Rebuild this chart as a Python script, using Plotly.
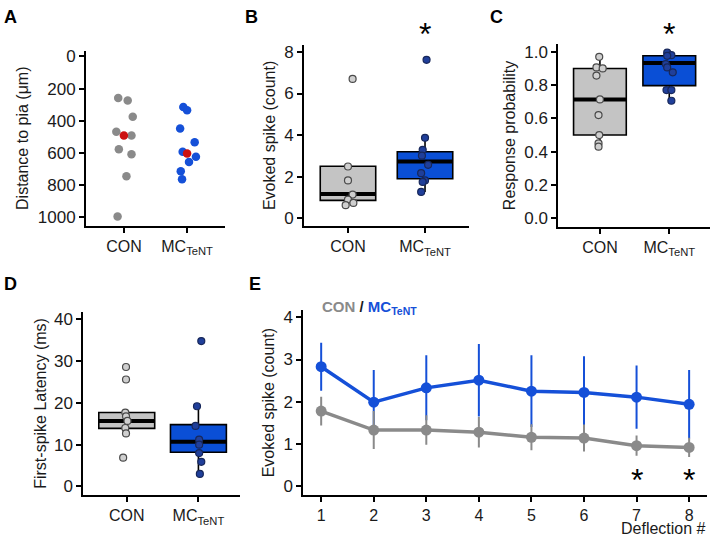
import plotly.graph_objects as go

# ---------------- DATA ----------------
groups = ["CON", "MC<sub>TeNT</sub>"]

# Panel A: distance to pia (um)
a_con = [259, 274, 376, 469, 492, 578, 609, 747, 998]
a_con_jit = [-0.09, 0.06, 0.14, -0.12, 0.12, -0.08, 0.12, 0.04, -0.10]
a_mc = [315, 335, 449, 535, 593, 625, 658, 716, 765]
a_mc_jit = [-0.06, 0.0, -0.11, 0.12, -0.07, 0.14, 0.03, -0.10, -0.08]
a_center = [492, 605]  # red markers (group centre)

# Panel B: evoked spike (count)
b_con = [2.49, 1.82, 1.14, 0.90, 0.74, 0.63, 6.70]
b_con_jit = [0.0, 0.0, 0.06, 0.0, 0.07, -0.03, 0.06]
b_mc = [3.87, 3.29, 3.01, 2.57, 2.17, 1.82, 1.75, 1.27, 7.62]
b_mc_jit = [0.0, -0.03, -0.04, 0.04, -0.05, 0.0, -0.03, -0.05, 0.02]
b_q1 = [0.86, 1.90]
b_med = [1.17, 2.73]
b_q3 = [2.50, 3.20]
b_lo = [0.63, 1.27]
b_hi = [2.50, 3.87]

# Panel C: response probability
c_con = [0.97, 0.906, 0.90, 0.857, 0.714, 0.62, 0.50, 0.45, 0.43]
c_con_jit = [-0.01, -0.05, 0.04, -0.05, 0.0, -0.02, -0.01, -0.02, -0.02]
c_mc = [0.995, 0.98, 0.976, 0.926, 0.906, 0.877, 0.77, 0.77, 0.706]
c_mc_jit = [-0.03, 0.03, -0.03, -0.05, -0.03, 0.05, -0.04, 0.03, 0.03]
c_q1 = [0.50, 0.797]
c_med = [0.714, 0.932]
c_q3 = [0.90, 0.976]
c_lo = [0.43, 0.706]
c_hi = [0.97, 0.995]

# Panel D: first-spike latency (ms)
d_con = [28.6, 25.6, 17.7, 16.8, 15.7, 14.0, 12.7, 6.9]
d_con_jit = [-0.01, -0.01, -0.02, -0.01, 0.01, -0.02, -0.01, -0.05]
d_mc = [34.8, 19.2, 14.5, 11.2, 10.0, 8.0, 5.9, 3.0]
d_mc_jit = [0.04, -0.02, -0.04, 0.01, 0.01, 0.01, 0.04, 0.02]
d_q1 = [13.9, 8.2]
d_med = [15.7, 10.7]
d_q3 = [17.7, 14.8]
d_lo = [12.7, 3.0]
d_hi = [17.7, 19.2]

# Panel E: evoked spikes per deflection
deflection = [1, 2, 3, 4, 5, 6, 7, 8]
e_con = [1.78, 1.33, 1.33, 1.28, 1.16, 1.14, 0.96, 0.92]
e_con_err = [0.34, 0.45, 0.35, 0.36, 0.31, 0.32, 0.24, 0.23]
e_mc = [2.83, 1.99, 2.33, 2.51, 2.25, 2.22, 2.11, 1.94]
e_mc_err = [0.57, 0.76, 0.77, 0.86, 0.85, 0.86, 0.75, 0.81]
e_sig = [7, 8]

# ---------------- STYLE ----------------
W, H = 712, 541
FONT = "Liberation Sans, Arial, sans-serif"
GRAY = "#8a8a8a"
BLUE = "#1550d8"
BOXGRAY = "#c4c4c4"
BOXBLUE = "#0a4fd6"
PT_CON = "#cfcfcf"
PT_MC = "#203f9a"

def xd(p0, p1):
    return [p0 / W, p1 / W]

def yd(top, bottom):
    return [1 - bottom / H, 1 - top / H]

fig = go.Figure()

axis_common = dict(showline=True, linecolor="black", linewidth=1.8, ticks="outside",
                   ticklen=5, tickwidth=1.8, tickcolor="black", showgrid=False,
                   zeroline=False)
xtick_font = dict(size=16, color="#1a1a1a", family=FONT)
ytick_font = dict(size=17, color="#1a1a1a", family=FONT)

# ---- Panel A ----
fig.add_trace(go.Scatter(x=[0 + j for j in a_con_jit], y=a_con, mode="markers",
                         marker=dict(size=8.5, color=GRAY), xaxis="x", yaxis="y", showlegend=False))
fig.add_trace(go.Scatter(x=[1 + j for j in a_mc_jit], y=a_mc, mode="markers",
                         marker=dict(size=8.5, color=BLUE), xaxis="x", yaxis="y", showlegend=False))
fig.add_trace(go.Scatter(x=[0, 1], y=a_center, mode="markers",
                         marker=dict(size=8.5, color="#cc1010"), xaxis="x", yaxis="y", showlegend=False))

# ---- box panels ----
def box_panel(xa, ya, q1, med, q3, lo, hi, con, con_j, mc, mc_j, width):
    fills = [BOXGRAY, BOXBLUE]
    for i in range(2):
        fig.add_trace(go.Box(x=[i], q1=[q1[i]], median=[med[i]], q3=[q3[i]],
                             lowerfence=[lo[i]], upperfence=[hi[i]], width=width,
                             fillcolor=fills[i], line=dict(color="black", width=1.6),
                             whiskerwidth=0, boxpoints=False, xaxis=xa, yaxis=ya,
                             showlegend=False, hoverinfo="skip"))
        fig.add_trace(go.Scatter(x=[i - width / 2, i + width / 2], y=[med[i], med[i]],
                                 mode="lines", line=dict(color="black", width=4),
                                 xaxis=xa, yaxis=ya, showlegend=False, hoverinfo="skip"))
    fig.add_trace(go.Scatter(x=[0 + j for j in con_j], y=con, mode="markers",
                             marker=dict(size=7, color=PT_CON, line=dict(color="#4a4a4a", width=1.2)),
                             xaxis=xa, yaxis=ya, showlegend=False))
    fig.add_trace(go.Scatter(x=[1 + j for j in mc_j], y=mc, mode="markers",
                             marker=dict(size=7, color=PT_MC, line=dict(color="#17275a", width=1.2)),
                             xaxis=xa, yaxis=ya, showlegend=False))

box_panel("x2", "y2", b_q1, b_med, b_q3, b_lo, b_hi, b_con, b_con_jit, b_mc, b_mc_jit, 0.72)
box_panel("x3", "y3", c_q1, c_med, c_q3, c_lo, c_hi, c_con, c_con_jit, c_mc, c_mc_jit, 0.76)
box_panel("x4", "y4", d_q1, d_med, d_q3, d_lo, d_hi, d_con, d_con_jit, d_mc, d_mc_jit, 0.78)

# ---- Panel E ----
fig.add_trace(go.Scatter(x=deflection, y=e_mc, mode="lines+markers",
                         line=dict(color=BLUE, width=3.5), marker=dict(size=11, color=BLUE),
                         error_y=dict(type="data", array=e_mc_err, color=BLUE, thickness=2, width=0),
                         xaxis="x5", yaxis="y5", showlegend=False))
fig.add_trace(go.Scatter(x=deflection, y=e_con, mode="lines+markers",
                         line=dict(color=GRAY, width=3.5), marker=dict(size=11, color=GRAY),
                         error_y=dict(type="data", array=e_con_err, color=GRAY, thickness=2, width=0),
                         xaxis="x5", yaxis="y5", showlegend=False))

cat_ticks = dict(tickmode="array", tickvals=[0, 1], ticktext=groups, tickfont=xtick_font)
title_font = dict(size=16, color="#1a1a1a", family=FONT)

fig.update_layout(
    width=W, height=H, margin=dict(l=0, r=0, t=0, b=0),
    paper_bgcolor="white", plot_bgcolor="white",
    font=dict(family=FONT, color="#1a1a1a"),
    xaxis=dict(domain=xd(86, 225), range=[-0.6, 1.6], anchor="y", **cat_ticks, **axis_common),
    yaxis=dict(domain=yd(48, 225), range=[1056, -37], anchor="x", tickvals=[0, 200, 400, 600, 800, 1000],
               tickfont=ytick_font,
               title=dict(text="Distance to pia (μm)", font=title_font, standoff=5), **axis_common),
    xaxis2=dict(domain=xd(304, 469), range=[-0.571, 1.571], anchor="y2", **cat_ticks, **axis_common),
    yaxis2=dict(domain=yd(42, 225.3), range=[-0.38, 8.35], anchor="x2", tickvals=[0, 2, 4, 6, 8],
                tickfont=ytick_font,
                title=dict(text="Evoked spike (count)", font=title_font, standoff=5), **axis_common),
    xaxis3=dict(domain=xd(558.3, 710), range=[-0.60, 1.587], anchor="y3", **cat_ticks, **axis_common),
    yaxis3=dict(domain=yd(41.7, 225.7), range=[-0.05, 1.045], anchor="x3",
                tickvals=[0, 0.2, 0.4, 0.6, 0.8, 1.0], ticktext=["0.0", "0.2", "0.4", "0.6", "0.8", "1.0"],
                tickfont=ytick_font,
                title=dict(text="Response probability", font=title_font, standoff=5), **axis_common),
    xaxis4=dict(domain=xd(83.3, 240), range=[-0.606, 1.58], anchor="y4", **cat_ticks, **axis_common),
    yaxis4=dict(domain=yd(311.7, 496.7), range=[-2.06, 41.8], anchor="x4", tickvals=[0, 10, 20, 30, 40],
                tickfont=ytick_font,
                title=dict(text="First-spike Latency (ms)", font=title_font, standoff=3), **axis_common),
    xaxis5=dict(domain=xd(303.3, 707), range=[0.66, 8.34], anchor="y5", tickvals=deflection,
                tickfont=xtick_font, **axis_common),
    yaxis5=dict(domain=yd(310, 496.7), range=[-0.21, 4.17], anchor="x5", tickvals=[0, 1, 2, 3, 4],
                tickfont=ytick_font,
                title=dict(text="Evoked spike (count)", font=title_font, standoff=5), **axis_common),
)

ann = []
for lab, px, py in [("A", 2, 2), ("B", 243, 2), ("C", 488, 2), ("D", 2, 272), ("E", 247, 272)]:
    ann.append(dict(text=f"<b>{lab}</b>", x=px / W, y=1 - py / H, xref="paper", yref="paper",
                    xanchor="left", yanchor="top", showarrow=False, font=dict(size=18, family=FONT, color="black")))
# significance stars
star_font = dict(size=32, family=FONT, color="black")
ann.append(dict(text="*", x=1, xref="x2", y=1 - 31 / H, yref="paper", yanchor="middle",
                showarrow=False, font=star_font))
ann.append(dict(text="*", x=1, xref="x3", y=1 - 31 / H, yref="paper", yanchor="middle",
                showarrow=False, font=star_font))
for s in e_sig:
    ann.append(dict(text="*", x=s, xref="x5", y=0.15, yref="y5", yanchor="middle",
                    showarrow=False, font=star_font))
# legend text in E
ann.append(dict(text=f"<b><span style='color:{GRAY}'>CON</span> / <span style='color:{BLUE}'>MC<sub>TeNT</sub></span></b>",
                x=320 / W, y=1 - 307 / H, xref="paper", yref="paper", xanchor="left", yanchor="middle",
                showarrow=False, font=dict(size=15, family=FONT, color="#1a1a1a")))
ann.append(dict(text="Deflection #", x=708 / W, y=0, xref="paper", yref="paper",
                xanchor="right", yanchor="bottom", showarrow=False,
                font=dict(size=16, family=FONT, color="#1a1a1a")))
fig.update_layout(annotations=ann)

fig.write_html("out.html", config={"displayModeBar": False},
               post_script="document.body.style.margin='0px';document.body.style.overflow='hidden';")
